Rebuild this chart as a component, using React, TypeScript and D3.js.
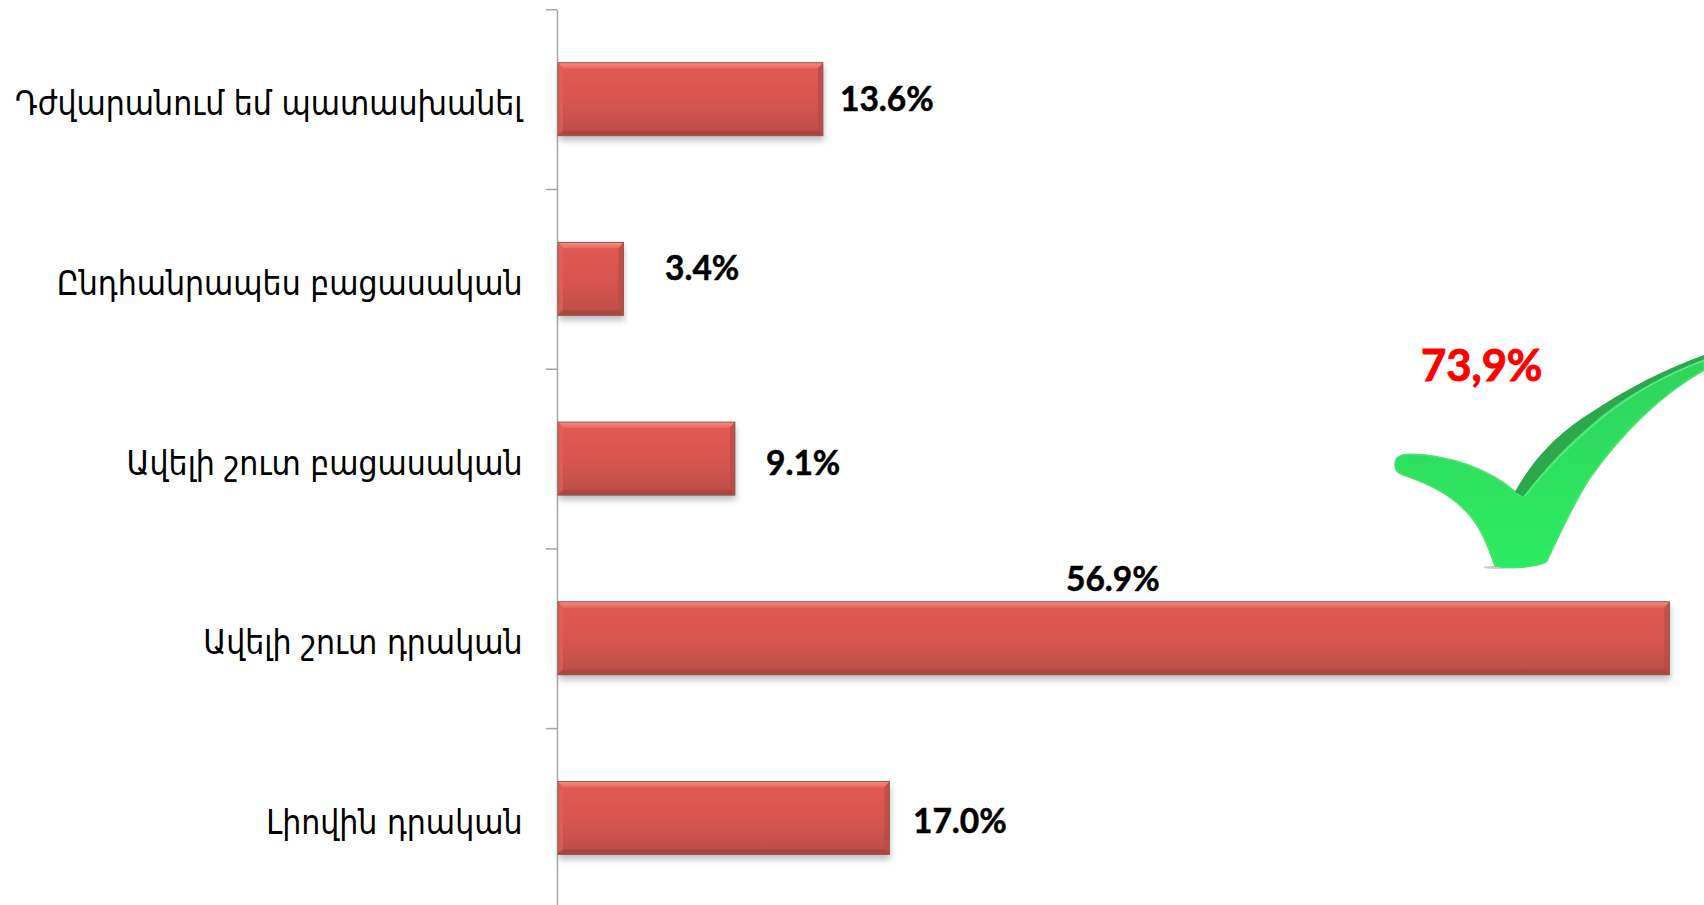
import * as d3 from 'd3';
import React, { useRef, useEffect } from 'react';

const categories = [
  'Դժվարանում եմ պատասխանել',
  'Ընդհանրապես բացասական',
  'Ավելի շուտ բացասական',
  'Ավելի շուտ դրական',
  'Լիովին դրական',
];
const values = [13.6, 3.4, 9.1, 56.9, 17.0];
const valueLabels = ['13.6%', '3.4%', '9.1%', '56.9%', '17.0%'];
const totalLabel = '73,9%';

const width = 1704;
const height = 905;
const axis_x = 557;
const top_y = 9.3;
const bottom_y = 907.8;

// check mark outlines, traced in a 3x crop and scaled down on draw
const checkBody = 'M135,435 C135,412 150,402 185,403 C300,405 420,450 495,515 L520,530 C580,450 650,375 740,300 C830,225 950,160 1063,118 L1063,150 C920,230 800,360 715,480 C660,570 625,650 590,725 C560,742 480,748 435,738 C415,680 390,610 340,565 C290,515 220,485 160,465 C145,460 135,450 135,435 Z';
const checkDark = 'M495,515 C560,400 640,330 720,280 C830,205 950,145 1063,105 L1063,118 C950,160 830,225 740,300 C650,375 580,450 520,530 Z';
const checkLine = 'M525,528 C585,450 655,378 745,303 C835,228 950,163 1063,121';

function App() {
  const ref = useRef<SVGSVGElement>(null);

  useEffect(() => {
    const svg = d3.select(ref.current);
    svg.selectAll('*').remove();

    const x = d3.scaleLinear().domain([0, 60]).range([axis_x, axis_x + 60 * 19.55]);
    const y = d3.scaleBand<string>()
      .domain(categories)
      .range([top_y, bottom_y])
      .paddingInner(0.594)
      .paddingOuter(0.297);
    const yTicks = d3.scaleLinear().domain([0, categories.length]).range([top_y, bottom_y]);

    const defs = svg.append('defs');
    const grad = defs.append('linearGradient').attr('id', 'barBody').attr('x1', 0).attr('x2', 0).attr('y1', 0).attr('y2', 1);
    grad.append('stop').attr('offset', '0%').attr('stop-color', '#e25a52');
    grad.append('stop').attr('offset', '55%').attr('stop-color', '#d6564f');
    grad.append('stop').attr('offset', '100%').attr('stop-color', '#bb4d47');

    const topGrad = defs.append('linearGradient').attr('id', 'barTop').attr('x1', 0).attr('x2', 0).attr('y1', 0).attr('y2', 1);
    topGrad.append('stop').attr('offset', '0%').attr('stop-color', '#f38d85');
    topGrad.append('stop').attr('offset', '100%').attr('stop-color', '#e8665e');

    const shadow = defs.append('filter').attr('id', 'barShadow').attr('x', '-5%').attr('y', '-10%').attr('width', '110%').attr('height', '130%');
    shadow.append('feGaussianBlur').attr('stdDeviation', 3);

    const soft = defs.append('filter').attr('id', 'soft');
    soft.append('feGaussianBlur').attr('stdDeviation', 1.6);

    const bevelSoft = defs.append('filter').attr('id', 'bevelSoft').attr('x', '-2%').attr('y', '-5%').attr('width', '104%').attr('height', '110%');
    bevelSoft.append('feGaussianBlur').attr('stdDeviation', 0.8);

    const checkGrad = defs.append('linearGradient').attr('id', 'checkFill').attr('x1', 0).attr('x2', 0).attr('y1', 0).attr('y2', 1);
    checkGrad.append('stop').attr('offset', '0%').attr('stop-color', '#2fd45c');
    checkGrad.append('stop').attr('offset', '100%').attr('stop-color', '#2cec62');

    // axis
    const axis = d3.axisLeft(yTicks)
      .tickValues(d3.range(0, categories.length))
      .tickSize(11)
      .tickSizeOuter(0)
      .tickFormat(() => '');
    const axisG = svg.append('g').attr('transform', `translate(${axis_x},0)`).call(axis);
    axisG.selectAll('line').attr('stroke', '#a6a6a6').attr('stroke-width', 1.5);
    axisG.select('.domain').attr('stroke', '#a6a6a6').attr('stroke-width', 1.5);

    // bars
    const bevel = 5;
    const bars = svg.selectAll('g.bar').data(values).enter().append('g').attr('class', 'bar');
    const bx = axis_x + 1;
    const bw = (d: number) => x(d) - bx;
    const by = (i: number) => y(categories[i])!;
    const bh = y.bandwidth();

    bars.append('rect')
      .attr('x', bx + 1).attr('y', (d, i) => by(i) + 4)
      .attr('width', bw).attr('height', bh + 1)
      .attr('fill', '#8a8a8a').attr('opacity', 0.55)
      .attr('filter', 'url(#barShadow)');
    bars.append('rect')
      .attr('x', bx).attr('y', (d, i) => by(i))
      .attr('width', bw).attr('height', bh)
      .attr('fill', 'url(#barBody)');
    // bevel edges
    bars.append('path')
      .attr('d', (d, i) => `M${bx},${by(i)} H${bx + bw(d)} L${bx + bw(d) - bevel},${by(i) + bevel + 1} H${bx + bevel} Z`)
      .attr('fill', 'url(#barTop)');
    bars.append('path')
      .attr('d', (d, i) => `M${bx},${by(i)} L${bx + bevel},${by(i) + bevel + 1} V${by(i) + bh - bevel} L${bx},${by(i) + bh} Z`)
      .attr('fill', '#e0625a').attr('opacity', 0.7);
    bars.append('path')
      .attr('d', (d, i) => `M${bx + bw(d)},${by(i)} L${bx + bw(d) - bevel},${by(i) + bevel + 1} V${by(i) + bh - bevel} L${bx + bw(d)},${by(i) + bh} Z`)
      .attr('fill', '#b84a44').attr('opacity', 0.7);
    bars.append('path')
      .attr('d', (d, i) => `M${bx},${by(i) + bh} H${bx + bw(d)} L${bx + bw(d) - bevel},${by(i) + bh - bevel} H${bx + bevel} Z`)
      .attr('fill', '#a8453f')
      .attr('filter', 'url(#bevelSoft)');
    bars.append('rect')
      .attr('x', bx).attr('y', (d, i) => by(i))
      .attr('width', bw).attr('height', bh)
      .attr('fill', 'none').attr('stroke', '#8f5a55').attr('stroke-width', 1);

    // category labels
    svg.selectAll('text.cat').data(categories).enter().append('text')
      .attr('class', 'cat')
      .attr('x', 522.5)
      .attr('y', (d) => y(d)! + y.bandwidth() / 2 + 16)
      .attr('text-anchor', 'end')
      .attr('font-family', 'DejaVu Sans')
      .attr('font-stretch', 'condensed')
      .attr('font-size', 33.4)
      .attr('fill', '#000')
      .text((d) => d);

    // value labels, the picture places them by hand
    const labelLeft = [840, 665, 766, 1066, 913];
    const labelBase = [111, 280, 475, 591, 833];
    svg.selectAll('text.val').data(valueLabels).enter().append('text')
      .attr('class', 'val')
      .attr('x', (d, i) => labelLeft[i])
      .attr('y', (d, i) => labelBase[i])
      .attr('font-family', 'Lato')
      .attr('font-weight', 700)
      .attr('font-size', 33.5)
      .attr('fill', '#000')
      .attr('stroke', '#000')
      .attr('stroke-width', 0.5)
      .text((d) => d);

    svg.append('text')
      .attr('x', 1421).attr('y', 381)
      .attr('font-family', 'Lato')
      .attr('font-weight', 700)
      .attr('font-size', 43.5)
      .attr('fill', '#ff0000')
      .attr('stroke', '#ff0000')
      .attr('stroke-width', 0.9)
      .text(totalLabel);

    // check mark
    const check = svg.append('g').attr('transform', 'translate(1350,320) scale(0.3333)');
    check.append('ellipse').attr('cx', 440).attr('cy', 742).attr('rx', 40).attr('ry', 5).attr('fill', '#999').attr('opacity', 0.5).attr('filter', 'url(#soft)');
    check.append('path').attr('d', checkBody).attr('fill', 'url(#checkFill)').attr('stroke', '#4fe06f').attr('stroke-width', 5).attr('filter', 'url(#soft)');
    check.append('path').attr('d', checkDark).attr('fill', '#2ba84c').attr('filter', 'url(#soft)');
    check.append('path').attr('d', checkLine).attr('fill', 'none').attr('stroke', '#5fe889').attr('stroke-width', 4).attr('filter', 'url(#soft)');
  }, []);

  return (
    <svg
      ref={ref}
      width={width}
      height={height}
      style={{ position: 'absolute', left: 0, top: 0, background: '#fff' }}
    />
  );
}

export default App;
